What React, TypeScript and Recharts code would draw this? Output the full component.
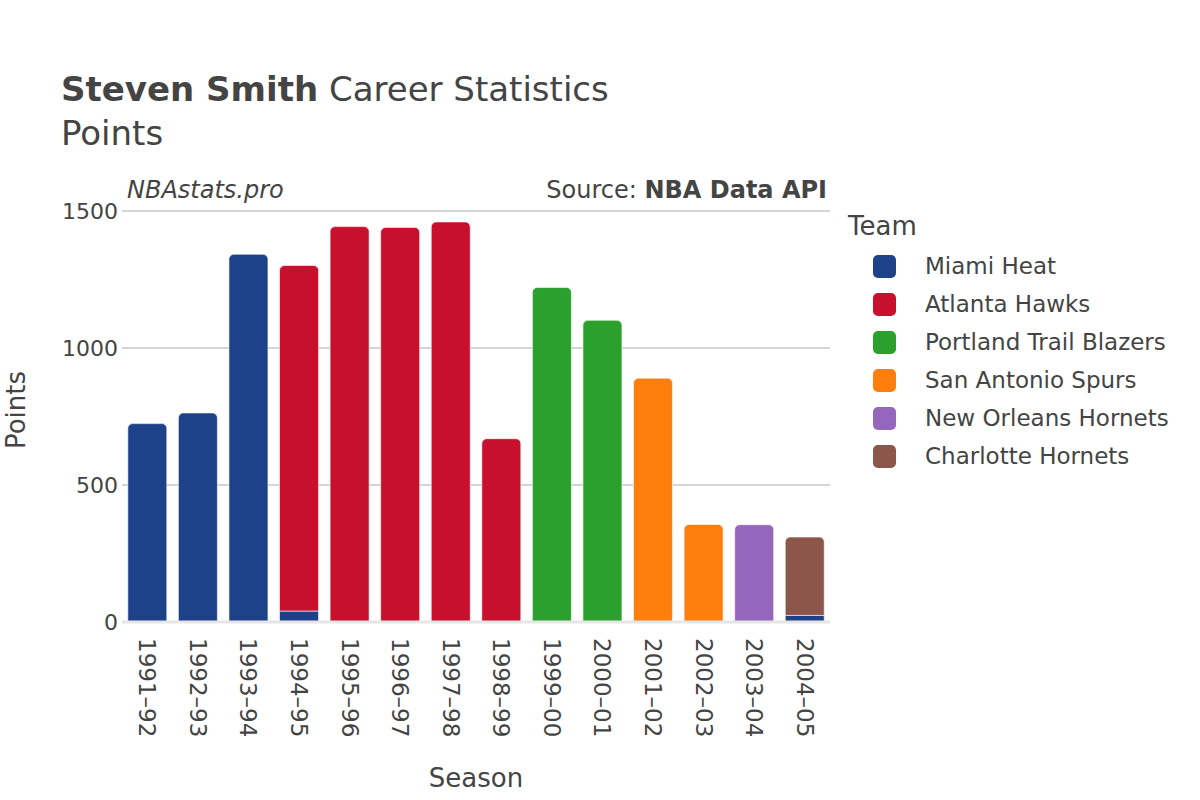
import React from 'react';
import { BarChart, Bar, XAxis, YAxis, CartesianGrid, Rectangle } from 'recharts';

// Season labels and points per team (null where the player wasn't on that team)
const seasons = ['1991–92', '1992–93', '1993–94', '1994–95', '1995–96', '1996–97', '1997–98', '1998–99', '1999–00', '2000–01', '2001–02', '2002–03', '2003–04', '2004–05'];
const miamiHeat = [724, 763, 1342, 40, null, null, null, null, null, null, null, null, null, 24];
const atlantaHawks = [null, null, null, 1261, 1443, 1440, 1460, 669, null, null, null, null, null, null];
const portlandTrailBlazers = [null, null, null, null, null, null, null, null, 1221, 1101, null, null, null, null];
const sanAntonioSpurs = [null, null, null, null, null, null, null, null, null, null, 890, 356, null, null];
const newOrleansHornets = [null, null, null, null, null, null, null, null, null, null, null, null, 355, null];
const charlotteHornets = [null, null, null, null, null, null, null, null, null, null, null, null, null, 286];
const yTicks = [0, 500, 1000, 1500];

const teams = [
  { key: 'Miami Heat', values: miamiHeat, color: '#1D428A' },
  { key: 'Atlanta Hawks', values: atlantaHawks, color: '#C8102E' },
  { key: 'Portland Trail Blazers', values: portlandTrailBlazers, color: '#2CA02C' },
  { key: 'San Antonio Spurs', values: sanAntonioSpurs, color: '#FF7F0E' },
  { key: 'New Orleans Hornets', values: newOrleansHornets, color: '#9467BD' },
  { key: 'Charlotte Hornets', values: charlotteHornets, color: '#8C564B' },
];

const data = seasons.map((season, i) => {
  const row: Record<string, any> = { season };
  teams.forEach(t => { row[t.key] = t.values[i]; });
  return row;
});

const TEXT = '#444';
const FONT = '"DejaVu Sans", sans-serif';

// round only the top segment of each stack
const makeShape = (teamIndex: number) => (props: any) => {
  const row = props.payload || {};
  const isTop = teams.slice(teamIndex + 1).every(t => !row[t.key]);
  return <Rectangle {...props} radius={isTop ? [5, 5, 0, 0] : 0} />;
};

const SeasonTick = ({ x, y, payload }: any) => (
  <text
    transform={`translate(${x},${y + 16}) rotate(90)`}
    textAnchor="start"
    dominantBaseline="central"
    fontSize={23}
    fill={TEXT}
    fontFamily={FONT}
  >
    {payload.value}
  </text>
);

const TeamLegend = () => (
  <div style={{ position: 'absolute', left: 848, top: 211, fontFamily: FONT, color: TEXT }}>
    <div style={{ fontSize: 26, height: 36, lineHeight: '36px', position: 'relative', top: -3 }}>Team</div>
    {teams.map(t => (
      <div key={t.key} style={{ display: 'flex', alignItems: 'center', height: 38 }}>
        <span style={{ display: 'inline-block', width: 23, height: 23, borderRadius: 5, background: t.color, marginLeft: 25, marginRight: 29 }} />
        <span style={{ fontSize: 23, whiteSpace: 'nowrap' }}>{t.key}</span>
      </div>
    ))}
  </div>
);

export default function App() {
  return (
    <div style={{ position: 'absolute', left: 0, top: 0, width: 1200, height: 800, background: '#fff', fontFamily: FONT, color: TEXT }}>
      <BarChart width={1200} height={800} data={data} margin={{ top: 211, right: 370, bottom: 0, left: 62 }} barCategoryGap="11.5%">
        <CartesianGrid vertical={false} stroke="#aaaaaa" strokeWidth={1} />
        <XAxis
          dataKey="season"
          height={178}
          tick={<SeasonTick />}
          tickLine={false}
          tickSize={0}
          tickMargin={0}
          axisLine={{ stroke: '#e6e6e6', strokeWidth: 3 }}
          interval={0}
        />
        <YAxis
          width={60}
          domain={[0, 1500]}
          ticks={yTicks}
          axisLine={false}
          tickLine={false}
          tickSize={0}
          tickMargin={4}
          tick={{ fontSize: 22, fill: TEXT, fontFamily: FONT }}
        />
        {teams.map((t, i) => (
          <Bar
            key={t.key}
            dataKey={t.key}
            stackId="pts"
            fill={t.color}
            stroke="#fff"
            strokeWidth={0.6}
            isAnimationActive={false}
            shape={makeShape(i)}
          />
        ))}
      </BarChart>

      <TeamLegend />
      <div style={{ position: 'absolute', left: 61, top: 69, fontSize: 34, whiteSpace: 'nowrap' }}>
        <b>Steven Smith</b> Career Statistics
      </div>
      <div style={{ position: 'absolute', left: 61, top: 113, fontSize: 34 }}>Points</div>
      <div style={{ position: 'absolute', left: 127, top: 176, fontSize: 24, fontStyle: 'italic' }}>NBAstats.pro</div>
      <div style={{ position: 'absolute', right: 1200 - 827, top: 176, fontSize: 24, whiteSpace: 'nowrap' }}>
        Source: <b>NBA Data API</b>
      </div>
      <div style={{ position: 'absolute', left: 476, top: 763, fontSize: 26, transform: 'translateX(-50%)' }}>Season</div>
      <div style={{ position: 'absolute', left: 16, top: 410, fontSize: 26, transform: 'translate(-50%,-50%) rotate(-90deg)' }}>Points</div>
    </div>
  );
}
